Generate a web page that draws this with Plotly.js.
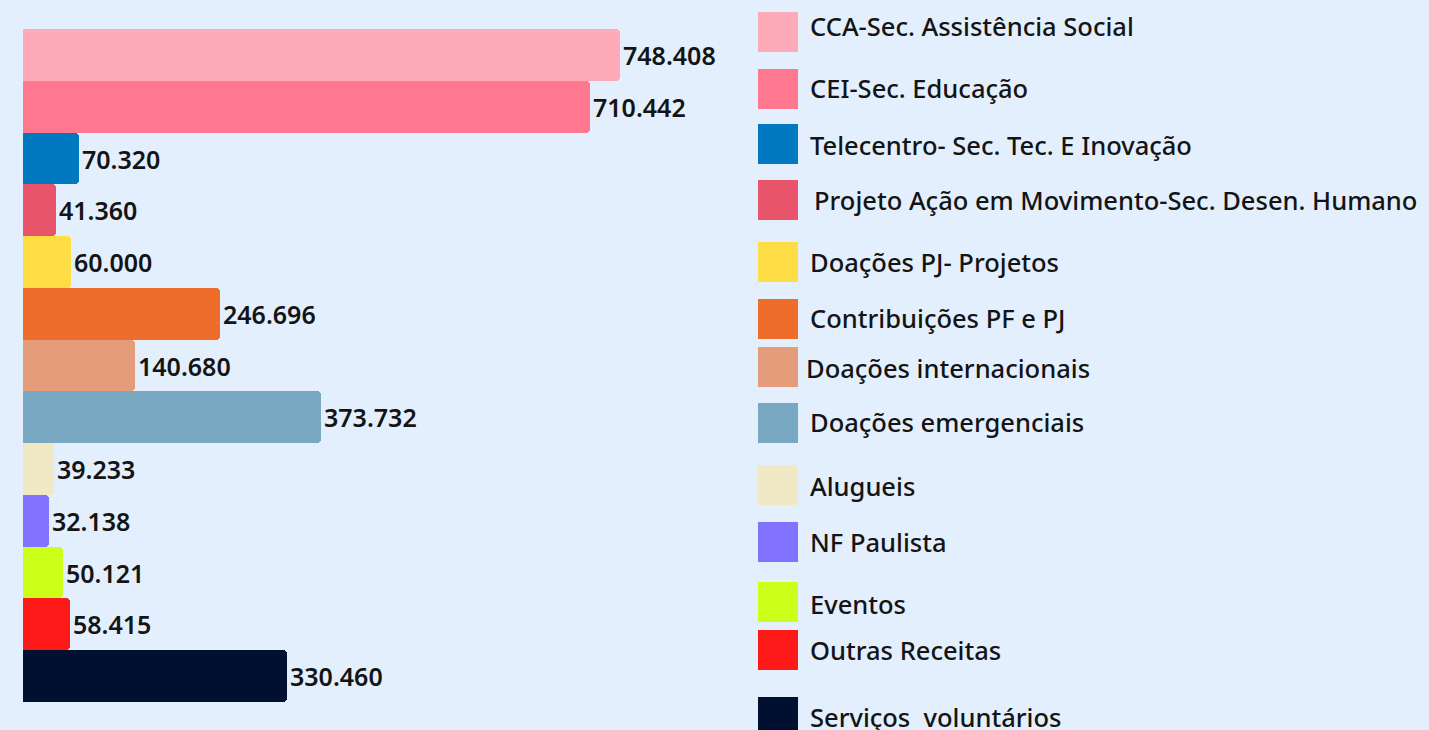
<!DOCTYPE html>
<html>
<head>
<meta charset="utf-8">
<script src="https://cdn.plot.ly/plotly-3.0.1.min.js"></script>
<style>html,body{margin:0;padding:0;background:#e3effd;}#chart{width:1429px;height:730px;}</style>
</head>
<body>
<div id="chart"></div>
<script>
// ---- data ----
const categories = [
  "CCA-Sec. Assistência Social",
  "CEI-Sec. Educação",
  "Telecentro- Sec. Tec. E Inovação",
  "Projeto Ação em Movimento-Sec. Desen. Humano",
  "Doações PJ- Projetos",
  "Contribuições PF e PJ",
  "Doações internacionais",
  "Doações emergenciais",
  "Alugueis",
  "NF Paulista",
  "Eventos",
  "Outras Receitas",
  "Serviços  voluntários"
];
const values = [748408, 710442, 70320, 41360, 60000, 246696, 140680, 373732, 39233, 32138, 50121, 58415, 330460];
const colors = ["#ffaab8", "#ff788f", "#0079c1", "#e8546a", "#ffdd45", "#ee6d2b", "#e59c7a", "#79a8c3",
                "#f1e9c5", "#8172ff", "#ccff1a", "#ff1a1a", "#011031"];

// ---- layout geometry (pixels) ----
const W = 1429, H = 730;
const L = 23, T = 29, B = 28, PLOTW = 718;
const R = W - L - PLOTW;
const PLOTH = H - T - B;
const legendSwatchTop = [12, 69, 124, 180, 242, 299, 347, 403, 465, 522, 582, 630, 697];
const legendTextY = [26, 88, 145, 200, 262, 318, 368, 422, 486, 542, 604, 650, 717];
const legendTextX = [808, 808, 808, 812, 808, 808, 804, 808, 808, 808, 808, 808, 808];
const swatchX0 = 758, swatchSize = 40;

const px2x = p => (p - L) / PLOTW;
const px2y = p => 1 - (p - T) / PLOTH;

const FONT = '"Noto Sans", Lato, sans-serif';
const shapes = [], annotations = [];
categories.forEach((c, i) => {
  shapes.push({
    type: 'rect', xref: 'paper', yref: 'paper', layer: 'above',
    x0: px2x(swatchX0), x1: px2x(swatchX0 + swatchSize),
    y0: px2y(legendSwatchTop[i]), y1: px2y(legendSwatchTop[i] + swatchSize),
    fillcolor: colors[i], line: {width: 0}
  });
  annotations.push({
    xref: 'paper', yref: 'paper', x: px2x(legendTextX[i]), y: px2y(legendTextY[i]),
    xanchor: 'left', yanchor: 'middle', showarrow: false, text: c,
    font: {family: FONT, size: 25.5, weight: 500, color: '#141414'}
  });
});

const trace = {
  type: 'bar', orientation: 'h',
  y: categories, x: values,
  marker: {color: colors, cornerradius: 4, line: {width: 0}},
  texttemplate: '%{x:,.0f}', textposition: 'outside', cliponaxis: false,
  textfont: {family: FONT, size: 25, weight: 600, color: '#141414'},
  hoverinfo: 'y+x', showlegend: false
};

const layout = {
  width: W, height: H,
  margin: {l: L, r: R, t: T, b: B, pad: 0},
  paper_bgcolor: '#e3effd', plot_bgcolor: '#e3effd',
  separators: ',.',
  bargap: 0,
  showlegend: false,
  xaxis: {range: [0, 900000], visible: false, showgrid: false, zeroline: false},
  yaxis: {autorange: 'reversed', visible: false, showgrid: false, zeroline: false, type: 'category'},
  shapes: shapes, annotations: annotations
};

Plotly.newPlot('chart', [trace], layout, {displayModeBar: false, responsive: false});
</script>
</body>
</html>
